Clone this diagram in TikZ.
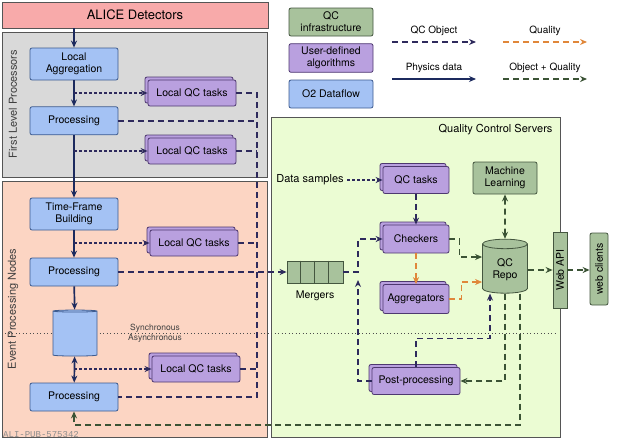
\documentclass[tikz,border=0pt]{standalone}
\usepackage{fontspec}
\setmainfont{TeX Gyre Heros}
\setmonofont{Liberation Mono}
\usetikzlibrary{positioning,shapes.geometric,shadows,arrows.meta}

\definecolor{dflowfill}{HTML}{A4C2F4}
\definecolor{dflowdraw}{HTML}{3D5B8F}
\definecolor{algofill}{HTML}{B9A0DF}
\definecolor{algodraw}{HTML}{4E3870}
\definecolor{infrafill}{HTML}{A8C29C}
\definecolor{infradraw}{HTML}{44563F}
\definecolor{flpfill}{HTML}{D9D9D9}
\definecolor{epnfill}{HTML}{FCD5C3}
\definecolor{qcsfill}{HTML}{EBFCD3}
\definecolor{alicefill}{HTML}{F8AAAA}
\definecolor{objcol}{HTML}{2E2A5C}
\definecolor{physcol}{HTML}{1C2A5E}
\definecolor{qualcol}{HTML}{E0873A}
\definecolor{oqcol}{HTML}{3B5335}
\definecolor{panelline}{HTML}{555555}

\begin{document}
\begin{tikzpicture}[x=1pt, y=-1pt, node distance=26pt, font=\fontsize{10.5}{12}\selectfont]
\tikzstyle{panel} = [draw=panelline, line width=0.9pt]
\tikzstyle{flow} = [draw=dflowdraw, fill=dflowfill, rectangle, rounded corners=2pt, line width=0.8pt, minimum width=88pt, align=center]
\tikzstyle{algobox} = [draw=algodraw, fill=algofill, rectangle, rounded corners=2pt, line width=0.8pt, align=center]
\tikzstyle{algo} = [algobox, minimum height=26pt, copy shadow={shadow xshift=-3pt, shadow yshift=3pt}]
\tikzstyle{infra} = [draw=infradraw, fill=infrafill, rectangle, rounded corners=2pt, line width=0.8pt, align=center]
\tikzstyle{phys} = [draw=physcol, line width=1.7pt, -{Stealth[length=7pt, width=6pt]}]
\tikzstyle{feed} = [draw=objcol, line width=1.7pt, dash pattern=on 6pt off 4pt]
\tikzstyle{qcobj} = [feed, -{Stealth[length=7pt, width=6pt]}]
\tikzstyle{sample} = [draw=objcol, line width=1.7pt, dash pattern=on 2.5pt off 2.5pt, -{Stealth[length=7pt, width=6pt]}]
\tikzstyle{qual} = [draw=qualcol, line width=1.7pt, dash pattern=on 6pt off 4pt, -{Stealth[length=7pt, width=6pt]}]
\tikzstyle{objqual} = [draw=oqcol, line width=1.7pt, dash pattern=on 6pt off 4pt, -{Stealth[length=7pt, width=6pt]}]
\tikzstyle{sidelabel} = [rotate=90, font=\fontsize{11}{13}\selectfont, text=black!75]

\useasboundingbox (0,0) rectangle (620,440);

% panels
\draw[panel, fill=flpfill] (2,32) rectangle (267,177);
\draw[panel, fill=epnfill] (2,181) rectangle (267,437);
\draw[panel, fill=qcsfill] (271,117) rectangle (560,437);
\node[sidelabel] (flplabel) at (13,104) {First Level Processors};
\node[sidelabel] (epnlabel) at (13,309) {Event Processing Nodes};
\node[anchor=east, font=\fontsize{11}{13}\selectfont] (qcslabel) at (556,130) {Quality Control Servers};

% synchronous / asynchronous border
\coordinate (syncL) at (5,333);
\coordinate (syncR) at (558,333);
\draw[black!70, line width=0.9pt, dash pattern=on 1pt off 2.5pt] (syncL) -- (syncR);
\node[font=\fontsize{8.5}{10}\selectfont, align=center, inner sep=0pt, text=black!75] (synclabel) at (155,333) {Synchronous\\Asynchronous};

% legend
\node[infra, minimum width=84pt, minimum height=28pt] (leginfra) at (331,22) {QC\\infrastructure};
\node[algobox, minimum width=84pt, minimum height=28pt] (legalgo) at (331,58) {User-defined\\algorithms};
\node[flow, minimum width=84pt, minimum height=28pt] (legflow) at (331,94) {O2 Dataflow};
\coordinate (lobjA) at (392,42);  \coordinate (lobjB) at (476,42);
\coordinate (lqualA) at (503,42); \coordinate (lqualB) at (587,42);
\coordinate (lphysA) at (392,79); \coordinate (lphysB) at (476,79);
\coordinate (loqA) at (503,79);   \coordinate (loqB) at (587,79);
\draw[qcobj] (lobjA) -- node[above=2pt, text=black, font=\fontsize{10}{12}\selectfont] {QC Object} (lobjB);
\draw[qual] (lqualA) -- node[above=2pt, text=black, font=\fontsize{10}{12}\selectfont] {Quality} (lqualB);
\draw[phys] (lphysA) -- node[above=2pt, text=black, font=\fontsize{10}{12}\selectfont] {Physics data} (lphysB);
\draw[objqual] (loqA) -- node[above=2pt, text=black, font=\fontsize{10}{12}\selectfont] {Object + Quality} (loqB);

% detectors and first level processors
\node[draw=panelline, fill=alicefill, line width=0.9pt, minimum width=266pt, minimum height=26pt, font=\fontsize{13}{15}\selectfont] (alice) at (135,15) {ALICE Detectors};
\node[flow, minimum height=32pt] (agg) at (74,64) {Local\\Aggregation};
\node[flow, minimum height=28pt, below=26pt of agg] (proc1) {Processing};
\node[algo, minimum width=88pt] (lqc1) at (192,93) {Local QC tasks};
\node[algo, minimum width=88pt] (lqc2) at (192,151) {Local QC tasks};

% event processing nodes
\node[flow, minimum height=32pt] (tfb) at (74,214) {Time-Frame\\Building};
\node[flow, minimum height=28pt] (proc2) at (74,272) {Processing};
\node[algo, minimum width=88pt] (lqc3) at (194,243) {Local QC tasks};
\node[cylinder, shape border rotate=90, aspect=0.3, draw=dflowdraw, fill=dflowfill, line width=0.8pt, minimum width=44pt, minimum height=46pt] (disk) at (75,334) {};
\node[algo, minimum width=88pt] (lqc4) at (196,369) {Local QC tasks};
\node[flow, minimum height=28pt] (proc3) at (74,397) {Processing};

% quality control servers
\node[font=\fontsize{11}{13}\selectfont] (samples) at (310,180) {Data samples};
\node[algo, minimum width=66pt, minimum height=27pt] (qctasks) at (416,180) {QC tasks};
\node[algo, minimum width=66pt, minimum height=28pt] (checkers) at (416,239) {Checkers};
\node[algo, minimum width=66pt, minimum height=29pt] (aggr) at (416,299) {Aggregators};
\node[algo, minimum width=88pt, minimum height=27pt] (postproc) at (416,381) {Post-processing};
\node[infra, rounded corners=0pt, minimum width=56pt, minimum height=22pt, label={[label distance=4pt]below:Mergers}] (mergers) at (315,272) {};
\foreach \i in {1,2,3}
  \draw[infradraw, line width=0.8pt] ([xshift=\i*14pt]mergers.north west) -- ([xshift=\i*14pt]mergers.south west);
\node[cylinder, shape border rotate=90, aspect=0.3, draw=infradraw, fill=infrafill, line width=0.8pt, minimum width=45pt, minimum height=54pt, align=center] (repo) at (505,270) {QC\\Repo};
\node[infra, minimum width=64pt, minimum height=32pt] (ml) at (505,178) {Machine\\Learning};
\node[infra, rotate=90, rounded corners=0pt, minimum width=76pt, minimum height=14pt, inner sep=1pt] (webapi) at (560,270) {Web API};
\node[infra, rotate=90, minimum width=72pt, minimum height=18pt, inner sep=1pt] (webcl) at (599,269) {web clients};

% physics data
\draw[phys] (agg.north |- alice.south) -- (agg.north);
\draw[phys] (agg) -- (proc1);
\draw[phys] (proc1) -- (tfb);
\draw[phys] (tfb) -- (proc2);
\draw[phys] (proc2) -- (disk);
\draw[phys, {Stealth[length=7pt, width=6pt]}-{Stealth[length=7pt, width=6pt]}] (disk) -- (proc3);

% local samples
\draw[sample] (agg.south |- lqc1.west) -- (lqc1.west);
\draw[sample] (proc1.south |- lqc2.west) -- (lqc2.west);
\draw[sample] (tfb.south |- lqc3.west) -- (lqc3.west);
\draw[sample] (proc3.north |- lqc4.west) -- (lqc4.west);
\draw[sample] (samples) -- (qctasks);

% qc objects to the mergers
\coordinate (bus) at (257,0);
\draw[feed] (lqc1.east) -| (bus |- proc3.east) -- (proc3.east);
\draw[feed] (proc1.east) -- (proc1.east -| bus);
\draw[feed] (lqc2.east) -- (lqc2.east -| bus);
\draw[feed] (lqc3.east) -- (lqc3.east -| bus);
\draw[feed] (lqc4.east) -- (lqc4.east -| bus);
\draw[qcobj] (proc2.east) -- (mergers.west);

% qc servers
\coordinate (mjoin) at (358,272);
\draw[qcobj] (mergers.east) -- (mjoin) |- (checkers.west);
\draw[qcobj] (postproc.west) -| ([yshift=-8pt]mjoin);
\draw[qcobj] (qctasks) -- (checkers);
\draw[qual] (checkers) -- (aggr);
\draw[objqual] (checkers.east) -- ++(10,0) |- ([yshift=13pt]repo.west);
\draw[qual] (aggr.east) -- ++(12,0) |- ([yshift=-12pt]repo.west);
\draw[qcobj] (postproc.north) |- ([xshift=-15pt, yshift=-45pt]repo.south) -- ([xshift=-15pt]repo.south);
\draw[objqual] (repo.south) |- (postproc.east);
\draw[objqual] ([xshift=15pt]repo.south) |- (300,425) -| (proc3.south);
\draw[objqual, {Stealth[length=7pt, width=6pt]}-{Stealth[length=7pt, width=6pt]}] (ml) -- (repo);
\draw[objqual] (repo.east) -- (repo.east -| webapi.north);
\draw[objqual] (webapi.south) -- (webapi.south -| webcl.north);

\node[anchor=base west, inner sep=0pt, font=\ttfamily\fontsize{9}{10}\selectfont, text=black!45] (alipub) at (3,437) {ALI-PUB-575342};
\end{tikzpicture}
\end{document}
